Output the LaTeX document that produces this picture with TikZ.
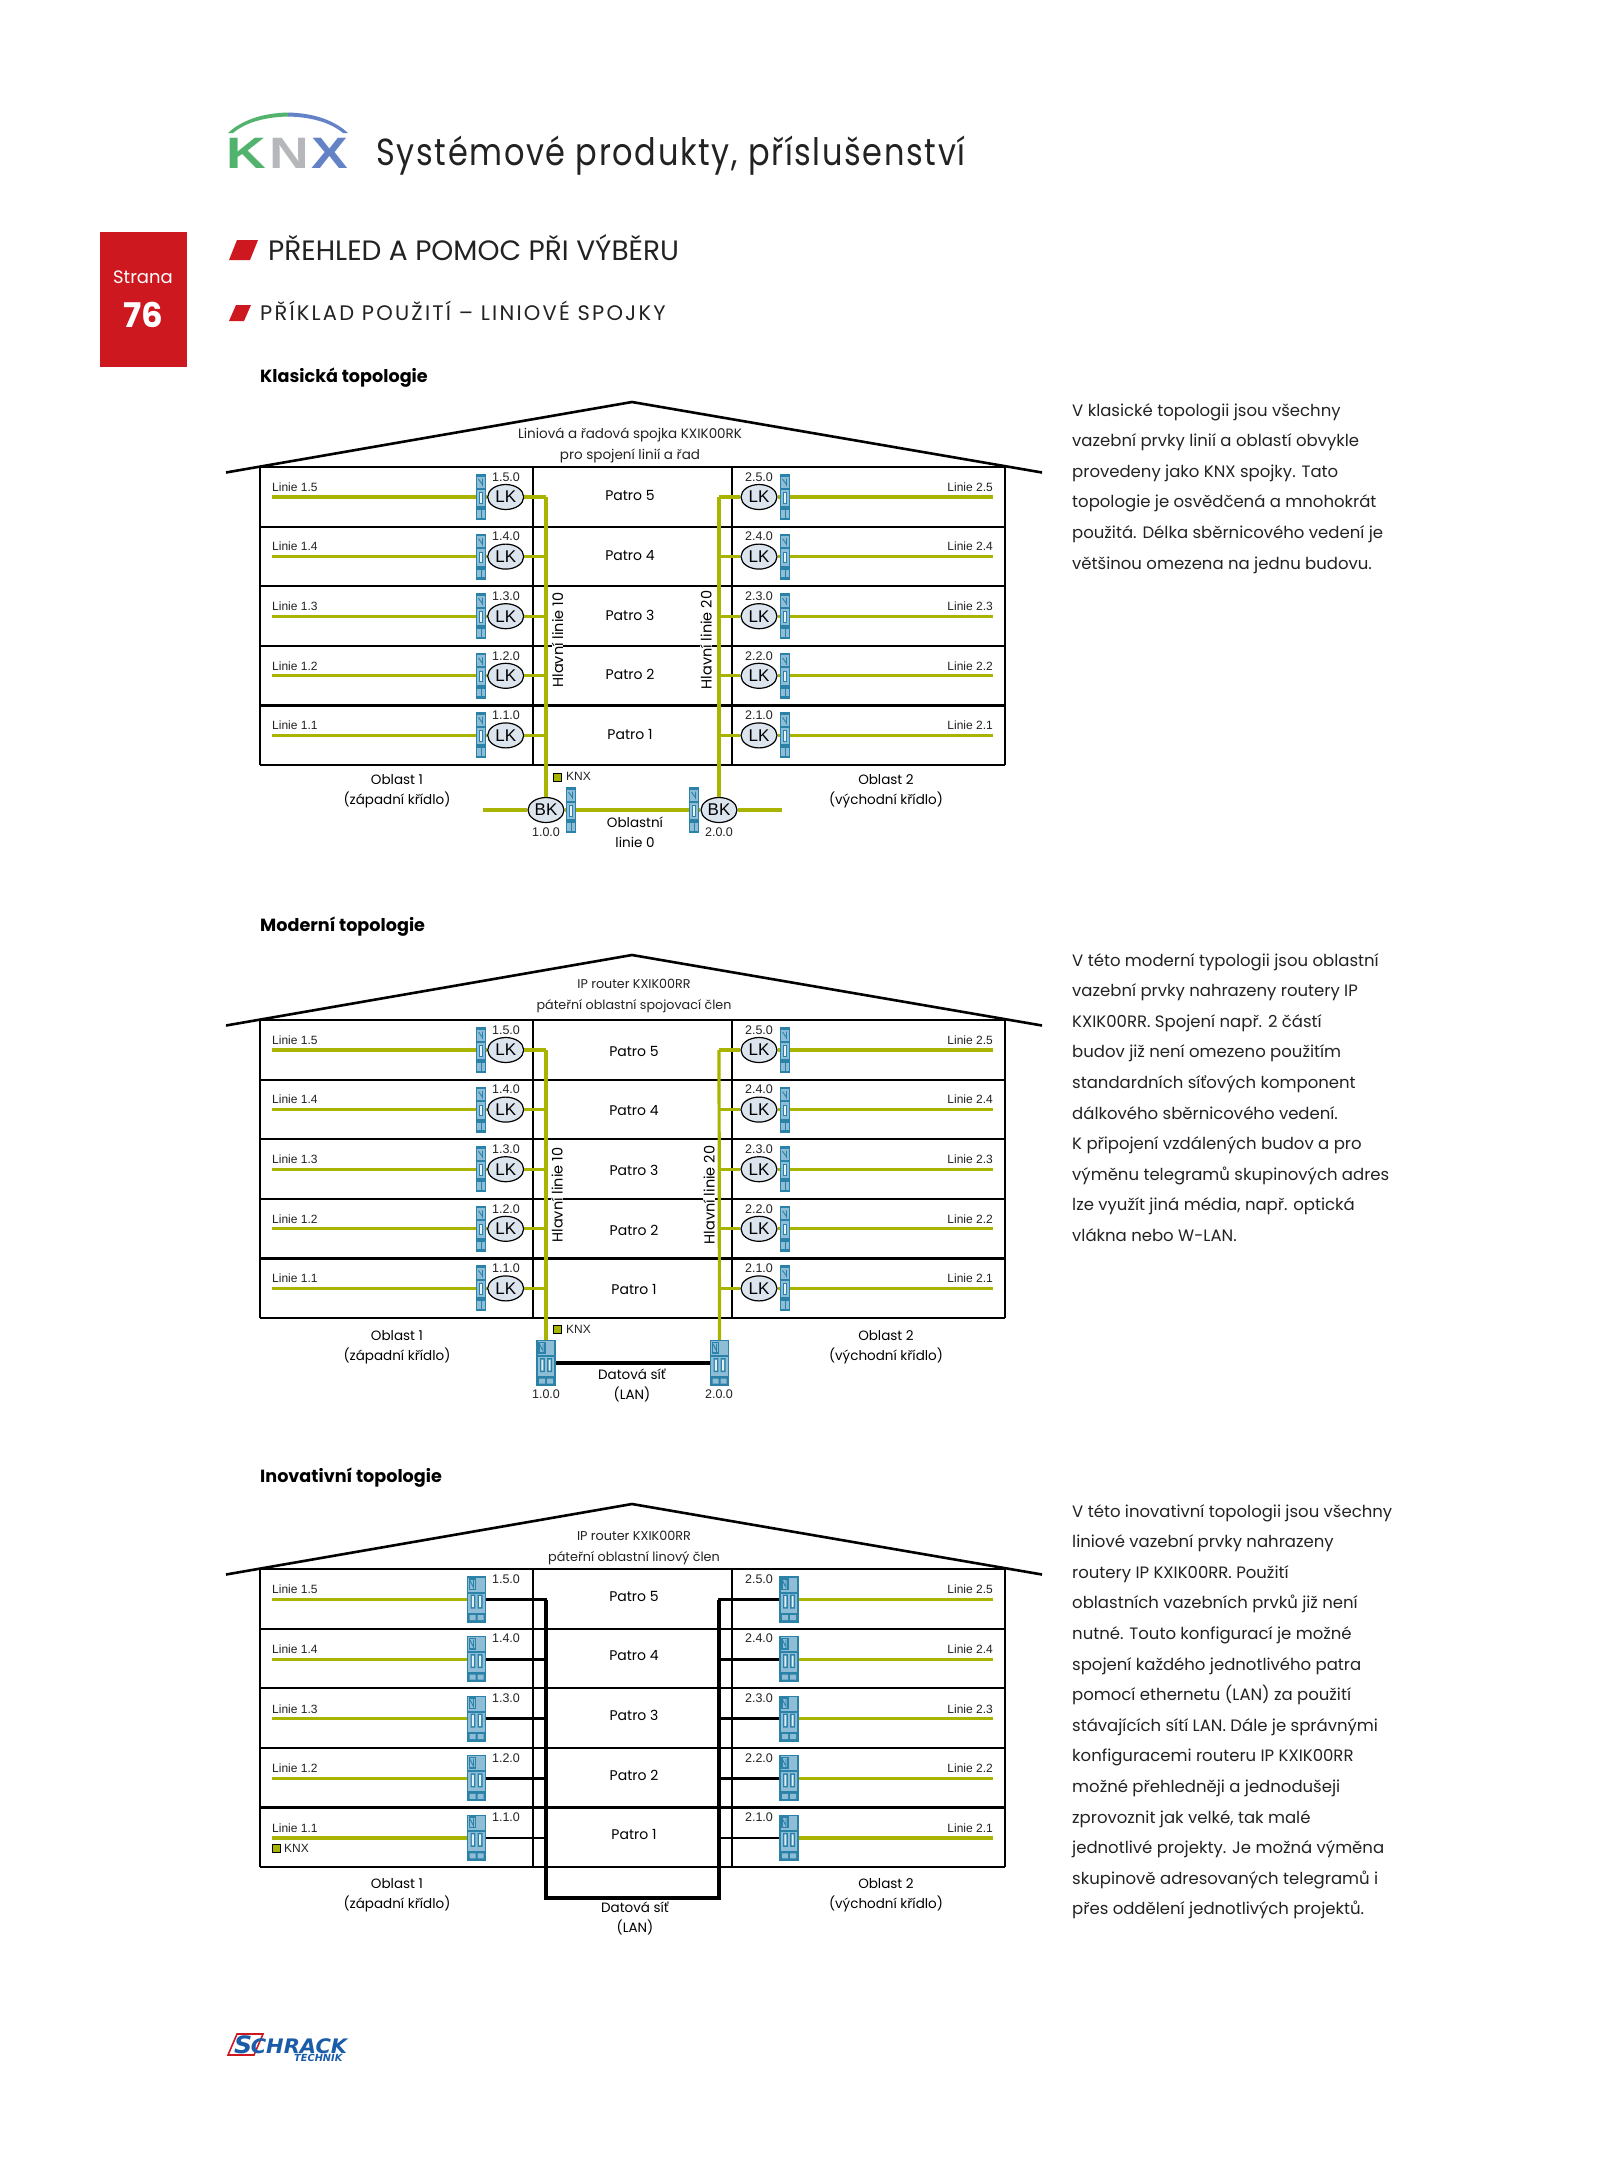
\documentclass[tikz,border=0pt]{standalone}
\usepackage{fontspec}
\usetikzlibrary{shapes.geometric}
\setmainfont{Poppins}
\setsansfont{Liberation Sans}
\newfontfamily\schf{DejaVu Sans}
\definecolor{knxgreen}{HTML}{A8B400}
\definecolor{devdark}{HTML}{2A82A8}
\definecolor{devlight}{HTML}{8FBDD6}
\definecolor{lkfill}{HTML}{DCE4EE}
\definecolor{schred}{HTML}{CE1820}
\definecolor{logogreen}{HTML}{52B36E}
\definecolor{logoblue}{HTML}{6482C6}
\definecolor{logogrey}{HTML}{B5B7BA}
\definecolor{schblue}{HTML}{1B5CA8}
\definecolor{ink}{HTML}{222222}
\tikzset{
 wall/.style={draw=black,line width=2.2pt},
 thinwall/.style={draw=black,line width=2pt},
 roofline/.style={draw=black,line width=2.6pt,line join=round},
 bus/.style={draw=knxgreen,line width=3.2pt},
 lan/.style={draw=black,line width=4.4pt,line join=miter},
 stub/.style={draw=black,line width=2.8pt},
 coupler/.style={ellipse,draw=black,line width=1.2pt,fill=lkfill,minimum width=36pt,minimum height=25pt,inner sep=0pt,font=\sffamily\fontsize{17}{17}\selectfont},
 smalld/.style={rectangle,fill=devdark,minimum width=10pt,minimum height=46pt,inner sep=0pt},
 larged/.style={rectangle,fill=devlight,draw=devdark,line width=1.2pt,minimum width=18pt,minimum height=45pt,inner sep=0pt},
 addr/.style={font=\sffamily\fontsize{12.5}{13}\selectfont,text=ink,inner sep=0pt},
 linel/.style={font=\sffamily\fontsize{12}{13}\selectfont,text=ink,inner sep=0pt},
 captext/.style={font=\fontsize{13.5}{20}\selectfont,text=black,align=center,inner sep=0pt},
 rooft/.style={text=ink,align=center,inner sep=0pt},
 para/.style={font=\fontsize{16.5}{30.6}\selectfont,text=ink,align=left,anchor=north west,inner sep=0pt},
 subhead/.style={font=\fontsize{17.6}{20}\selectfont\bfseries,text=black,anchor=west,inner sep=0pt},
 legendsq/.style={rectangle,fill=knxgreen,draw=black,line width=.6pt,minimum size=8pt,inner sep=0pt},
 parall/.style={fill=schred,draw=none},
 sidetext/.style={captext,font=\fontsize{14.5}{20}\selectfont,rotate=90,fill=white,inner sep=0pt},
}
% small rail device: name, x, y
\newcommand{\smalldev}[3]{%
 \node[smalld] (#1) at (#2,#3) {};
 \begin{scope}[shift={(#2,#3)}]
  \fill[devlight] (-3.6,-20.5) rectangle (3.6,-9.5);
  \draw[devdark,line width=.9pt] (-2.5,-18) -- (1,-13) (1.5,-18.5) -- (1.5,-11);
  \fill[devlight] (-4,-7.5) rectangle (4,9);
  \fill[devdark] (-2.4,-5) rectangle (2.4,6.5);
  \fill[white!80!devlight] (-1,-4) rectangle (1,5.5);
  \fill[devlight] (-3.6,13) rectangle (3.6,20.5);
  \fill[devdark] (-.5,13) rectangle (.5,20.5);
 \end{scope}}
% large router device: name, x, y
\newcommand{\largedev}[3]{%
 \node[larged] (#1) at (#2,#3) {};
 \begin{scope}[shift={(#2,#3)}]
  \fill[devdark] (-9,-8) rectangle (9,-6);
  \fill[devdark] (-9,13) rectangle (9,22.5);
  \fill[devlight] (-7,15.5) rectangle (-1,20.5) (1,15.5) rectangle (7,20.5);
  \fill[devdark] (-8,-21.5) rectangle (-.5,-9.5);
  \fill[devlight] (-6.5,-20) rectangle (-2,-11);
  \draw[devdark,line width=.9pt] (-6.5,-19) -- (-3.5,-13) (-3,-19.5) -- (-3,-11);
  \fill[devdark] (-6,-5) rectangle (-1.2,9) (1.2,-5) rectangle (6,9);
  \fill[white!75!devlight] (-4.6,-3.5) rectangle (-2.6,7.5) (2.6,-3.5) rectangle (4.6,7.5);
 \end{scope}}
% building frame: prefix, patro y offset, top y, patro x, roof text, roof text y, roof font size
\newcommand{\building}[7]{%
 \coordinate (#1roofL) at (226,#3+5.5);
 \coordinate (#1roofP) at (632,#3-65);
 \coordinate (#1roofR) at (1042,#3+5.5);
 \draw[roofline] (#1roofL) -- (#1roofP) -- (#1roofR);
 \node[rooft,font=\fontsize{#7}{20.4}\selectfont] (#1rooftext) at (#4,#6) {#5};
 \foreach \k [evaluate=\k as \yy using {#3+59.6*\k}] in {0,...,5} {
   \coordinate (#1sl\k) at (260,\yy);
   \coordinate (#1sr\k) at (1005,\yy);
   \draw[wall] (#1sl\k) -- (#1sr\k);
 }
 \draw[thinwall] (#1sl0) -- (#1sl5);
 \draw[thinwall] (#1sr0) -- (#1sr5);
 \coordinate (#1ml0) at (533,#3); \coordinate (#1ml5) at (533,#3+298);
 \coordinate (#1mr0) at (732,#3); \coordinate (#1mr5) at (732,#3+298);
 \draw[thinwall] (#1ml0) -- (#1ml5);
 \draw[thinwall] (#1mr0) -- (#1mr5);
 \foreach \f [evaluate=\f as \yy using {#3+29.8+(#2)+59.6*(5-\f)}] in {1,...,5} {
   \node[captext,font=\fontsize{14}{20}\selectfont] (#1patro\f) at (#4,\yy) {Patro \f};
 }
}
% coupler rows with LK ellipses: prefix, top y
\newcommand{\lkrows}[2]{%
 \foreach \f [evaluate=\f as \yy using {#2+30+59.6*(5-\f)}] in {1,...,5} {
   \coordinate (#1LA\f) at (272,\yy);
   \coordinate (#1RA\f) at (993,\yy);
   \coordinate (#1LB\f) at (546,\yy);
   \coordinate (#1RB\f) at (719,\yy);
   \smalldev{#1ld\f}{481}{\yy}
   \smalldev{#1rd\f}{785}{\yy}
   \node[coupler] (#1ll\f) at (505.7,\yy) {LK};
   \node[coupler] (#1rl\f) at (759,\yy) {LK};
   \draw[bus] (#1LA\f) -- (#1ld\f.west);
   \draw[bus] (#1rd\f.east) -- (#1RA\f);
   \draw[bus] (#1ld\f.east) -- (#1ll\f.west);
   \draw[bus] (#1rd\f.west) -- (#1rl\f.east);
   \draw[bus] (#1ll\f.east) -- (#1LB\f);
   \draw[bus] (#1rl\f.west) -- (#1RB\f);
   \node[addr] (#1la\f) at (506,\yy-20) {1.\f.0};
   \node[addr] (#1ra\f) at (759,\yy-20) {2.\f.0};
   \node[linel,anchor=west] (#1lt\f) at (272,\yy-10) {Linie 1.\f};
   \node[linel,anchor=east] (#1rt\f) at (993,\yy-10) {Linie 2.\f};
 }
}
\begin{document}
\begin{tikzpicture}[x=1pt,y=-1pt]
\useasboundingbox (0,0) rectangle (1600,2180);
\fill[white] (0,0) rectangle (1600,2180);

% KNX logo
\fill[logogreen] (228,133) .. controls (243,119) and (265,113) .. (288,112.5) -- (288,116.5) .. controls (266,117) and (246,122) .. (233,133) -- cycle;
\fill[logoblue] (288,112.5) .. controls (311,113) and (333,119) .. (348,133) -- (343,133) .. controls (330,122) and (310,117) .. (288,116.5) -- cycle;
\node[inner sep=0pt,anchor=base west,xscale=1.25,font=\fontsize{44}{44}\selectfont\sffamily\bfseries] (knxlogo) at (226,168) {\textcolor{logogreen}{K}\kern3pt\textcolor{logogrey}{N}\kern2pt\textcolor{logoblue}{X}};

% header
\node[inner sep=0pt,anchor=base west,text=ink,yscale=1.18,font=\fontsize{32}{36}\selectfont\addfontfeature{LetterSpace=5.2}] (title) at (376,165) {Systémové produkty, příslušenství};
\node[fill=schred,minimum width=87pt,minimum height=135pt,inner sep=0pt,anchor=north west] (redbox) at (100,232) {};
\node[inner sep=0pt,text=white,font=\fontsize{18}{20}\selectfont] (strana) at (143,277) {Strana};
\node[inner sep=0pt,text=white,font=\fontsize{34}{36}\selectfont\bfseries] (page) at (143,315) {76};
\fill[parall] (229,260) -- (237,240) -- (258,240) -- (250,260) -- cycle;
\fill[parall] (229,321) -- (236,305) -- (251,305) -- (244,321) -- cycle;
\node[inner sep=0pt,anchor=base west,text=ink,font=\fontsize{28}{30}\selectfont] (head1) at (268,260) {PŘEHLED A POMOC PŘI VÝBĚRU};
\node[inner sep=0pt,anchor=base west,text=ink,font=\fontsize{21}{24}\selectfont\addfontfeature{LetterSpace=10.5}] (head2) at (260,320) {PŘÍKLAD POUŽITÍ – LINIOVÉ SPOJKY};

% subheads
\node[subhead] (sub1) at (260,377.5) {Klasická topologie};
\node[subhead] (sub2) at (260,926.5) {Moderní topologie};
\node[subhead] (sub3) at (260,1477.5) {Inovativní topologie};

% right paragraphs
\node[para] (p1) at (1072,403) {V klasické topologii jsou všechny\\vazební prvky linií a oblastí obvykle\\provedeny jako KNX spojky. Tato\\topologie je osvědčená a mnohokrát\\použitá. Délka sběrnicového vedení je\\většinou omezena na jednu budovu.};
\node[para] (p2) at (1072,953) {V této moderní typologii jsou oblastní\\vazební prvky nahrazeny routery IP\\KXIK00RR. Spojení např. 2 částí\\budov již není omezeno použitím\\standardních síťových komponent\\dálkového sběrnicového vedení.\\K připojení vzdálených budov a pro\\výměnu telegramů skupinových adres\\lze využít jiná média, např. optická\\vlákna nebo W-LAN.};
\node[para] (p3) at (1072,1504) {V této inovativní topologii jsou všechny\\liniové vazební prvky nahrazeny\\routery IP KXIK00RR. Použití\\oblastních vazebních prvků již není\\nutné. Touto konfigurací je možné\\spojení každého jednotlivého patra\\pomocí ethernetu (LAN) za použití\\stávajících sítí LAN. Dále je správnými\\konfiguracemi routeru IP KXIK00RR\\možné přehledněji a jednodušeji\\zprovoznit jak velké, tak malé\\jednotlivé projekty. Je možná výměna\\skupinově adresovaných telegramů i\\přes oddělení jednotlivých projektů.};

%%% Diagram 1
\building{a}{-1}{467}{630}{Liniová a řadová spojka KXIK00RK\\pro spojení linií a řad}{445.5}{13.5}
\coordinate (aLtop) at (546,497);
\coordinate (aRtop) at (719,497);
\node[coupler] (aBK1) at (546,810) {BK};
\node[coupler] (aBK2) at (719,810) {BK};
\draw[bus] (aLtop) -- (aBK1);
\draw[bus] (aRtop) -- (aBK2);
\lkrows{a}{467}
\smalldev{aD1}{571}{810}
\smalldev{aD2}{694}{810}
\coordinate (aOL) at (483,810);
\coordinate (aOR) at (782,810);
\draw[bus] (aOL) -- (aBK1);
\draw[bus] (aBK1) -- (aD1);
\draw[bus] (aD1) -- (aD2);
\draw[bus] (aD2) -- (aBK2);
\draw[bus] (aBK2) -- (aOR);
\node[addr] (aA1) at (546,832) {1.0.0};
\node[addr] (aA2) at (719,832) {2.0.0};
\node[legendsq] (aSq) at (557,777) {};
\node[linel,anchor=west] (aKnx) at (566,776) {KNX};
\node[captext] (aO1) at (397,791.5) {Oblast 1\\(západní křídlo)};
\node[captext] (aO2) at (886,791.5) {Oblast 2\\(východní křídlo)};
\node[captext] (aOL0) at (635,832) {Oblastní\\linie 0};
\node[sidetext] (aH1) at (557.5,640) {Hlavní linie 10};
\node[sidetext] (aH2) at (706,640) {Hlavní linie 20};

%%% Diagram 2
\building{b}{1.5}{1020}{634}{IP router KXIK00RR\\páteřní oblastní spojovací člen}{996}{12.7}
\coordinate (bLtop) at (546,1050);
\coordinate (bRtop) at (719,1050);
\largedev{bR1}{546}{1363}
\largedev{bR2}{719.5}{1363}
\draw[bus] (bLtop) -- (bR1.north);
\draw[bus] (bRtop) -- (bR2.north);
\lkrows{b}{1020}
\draw[lan] (bR1) -- (bR2);
\node[addr] (bA1) at (546,1394) {1.0.0};
\node[addr] (bA2) at (719,1394) {2.0.0};
\node[legendsq] (bSq) at (557,1329) {};
\node[linel,anchor=west] (bKnx) at (566,1329) {KNX};
\node[captext] (bO1) at (397,1347) {Oblast 1\\(západní křídlo)};
\node[captext] (bO2) at (886,1347) {Oblast 2\\(východní křídlo)};
\node[captext] (bOL0) at (632,1385) {Datová síť\\(LAN)};
\node[sidetext] (bH1) at (557,1195) {Hlavní linie 10};
\node[sidetext] (bH2) at (709,1195) {Hlavní linie 20};

%%% Diagram 3
\building{c}{-2.5}{1569}{634}{IP router KXIK00RR\\páteřní oblastní linový člen}{1548}{12.8}
\coordinate (cL) at (546,1599.5);
\coordinate (cR) at (719,1599.5);
\coordinate (cLb) at (546,1898);
\coordinate (cRb) at (719,1898);
\draw[lan] (cL) -- (cLb) -- (cRb) -- (cR);
\foreach \f [evaluate=\f as \yy using {1599.5+59.6*(5-\f)}] in {1,...,5} {
  \coordinate (cLA\f) at (272,\yy);
  \coordinate (cRA\f) at (993,\yy);
  \coordinate (cLB\f) at (547,\yy);
  \coordinate (cRB\f) at (718,\yy);
  \largedev{cld\f}{476.5}{\yy}
  \largedev{crd\f}{789}{\yy}
  \draw[bus] (cLA\f) -- (cld\f.west);
  \draw[bus] (crd\f.east) -- (cRA\f);
  \draw[stub] (cld\f.east) -- (cLB\f);
  \draw[stub] (crd\f.west) -- (cRB\f);
  \node[addr] (cla\f) at (506,\yy-20.5) {1.\f.0};
  \node[addr] (cra\f) at (759,\yy-20.5) {2.\f.0};
  \node[linel,anchor=west] (clt\f) at (272,\yy-10) {Linie 1.\f};
  \node[linel,anchor=east] (crt\f) at (993,\yy-10) {Linie 2.\f};
}
\node[legendsq] (cSq) at (276,1848) {};
\node[linel,anchor=west] (cKnx) at (284,1848) {KNX};
\node[captext] (cO1) at (397,1895) {Oblast 1\\(západní křídlo)};
\node[captext] (cO2) at (886,1895) {Oblast 2\\(východní křídlo)};
\node[captext] (cOL0) at (635,1918) {Datová síť\\(LAN)};

% Schrack logo
\draw[schred,line width=1.6pt] (228,2055) -- (237,2034) -- (263,2034) -- (254,2055) -- cycle;
\node[inner sep=0pt,anchor=base west,text=schblue,xscale=1.05,font=\schf\bfseries\itshape\fontsize{24}{24}\selectfont] (schr) at (234,2053) {S\kern-1.5pt\fontsize{20}{20}\selectfont CHRACK};
\node[inner sep=0pt,anchor=base west,text=schblue,font=\schf\bfseries\itshape\fontsize{9.8}{10}\selectfont] (tech) at (294,2061) {TECHNIK};
\end{tikzpicture}
\end{document}
